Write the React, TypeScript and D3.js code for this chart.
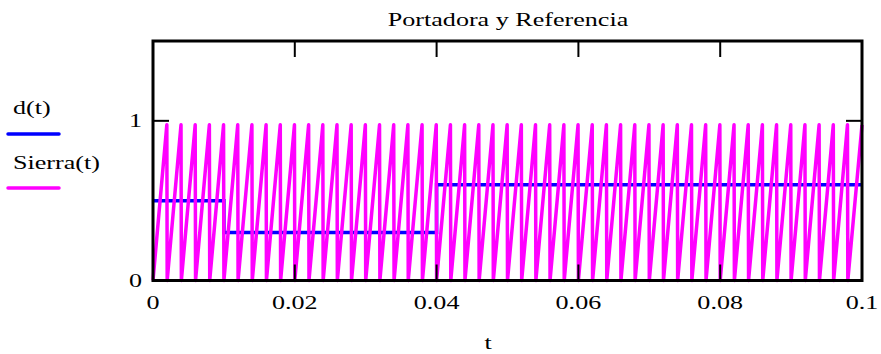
import React from "react";
import * as d3 from "d3";

// Data
const xTicks = [0, 0.02, 0.04, 0.06, 0.08, 0.1];
const xTickLabels = ["0", "0.02", "0.04", "0.06", "0.08", "0.1"];
const yTicks = [0, 1];
const yTickLabels = ["0", "1"];

// d(t): reference levels (step function)
const dStart = [0, 0.01, 0.04];
const dEnd = [0.01, 0.04, 0.1];
const dLevel = [0.5, 0.3, 0.6];

// Sierra(t): sawtooth teeth (start time of each tooth)
const toothStart = [
  0, 0.002, 0.004, 0.006, 0.008, 0.01, 0.012, 0.014, 0.016, 0.018,
  0.02, 0.022, 0.024, 0.026, 0.028, 0.03, 0.032, 0.034, 0.036, 0.038,
  0.04, 0.042, 0.044, 0.046, 0.048, 0.05, 0.052, 0.054, 0.056, 0.058,
  0.06, 0.062, 0.064, 0.066, 0.068, 0.07, 0.072, 0.074, 0.076, 0.078,
  0.08, 0.082, 0.084, 0.086, 0.088, 0.09, 0.092, 0.094, 0.096, 0.098,
];
const toothRise = 0.00195;
const toothPeak = 0.975;
const toothEnd = 0.002;

const W = 881;
const H = 354;
const left = 153;
const right = 862;
const top = 41;
const bottom = 280.5;

export default function App() {
  const x = d3.scaleLinear().domain([0, 0.1]).range([left, right]);
  const y = d3.scaleLinear().domain([0, 1.5]).range([bottom, top]);

  const dPts: [number, number][] = [];
  dLevel.forEach((v, i) => {
    dPts.push([dStart[i], v]);
    dPts.push([dEnd[i], v]);
  });
  const sPts: [number, number][] = [[0, 0]];
  toothStart.forEach((s, i) => {
    const last = i === toothStart.length - 1;
    sPts.push([last ? 0.1 : s + toothRise, toothPeak]);
    if (!last) sPts.push([s + toothEnd, 0]);
  });

  const line = d3
    .line<[number, number]>()
    .x((d) => x(d[0]))
    .y((d) => y(d[1]));

  const font = "'Liberation Serif', 'Times New Roman', serif";
  const fs = 18;
  const sx = 1.45;
  const tickLen = 16;

  const T = (props: { x: number; y: number; anchor?: string; children: React.ReactNode }) => (
    <text
      transform={`translate(${props.x},${props.y}) scale(${sx},1)`}
      fontSize={fs}
      textAnchor={props.anchor || "start"}
      style={{ fontFamily: font }}
      fill="#000"
    >
      {props.children}
    </text>
  );

  return (
    <svg width={W} height={H} style={{ position: "absolute", left: 0, top: 0 }}>
      <rect width={W} height={H} fill="#fff" />
      <T x={508} y={26} anchor="middle">Portadora y Referencia</T>
      {/* legend */}
      <T x={13} y={114}>d(t)</T>
      <line x1={8} x2={59} y1={134} y2={134} stroke="#0000ff" strokeWidth={3.5} strokeLinecap="round" />
      <T x={13} y={169}>Sierra(t)</T>
      <line x1={8} x2={59} y1={188} y2={188} stroke="#ff00ff" strokeWidth={3.5} strokeLinecap="round" />

      {/* data */}
      <path d={line(dPts) || ""} fill="none" stroke="#0000ff" strokeWidth={3.5} />
      <path d={line(sPts) || ""} fill="none" stroke="#ff00ff" strokeWidth={3.5} strokeLinejoin="round" />

      {/* frame */}
      <rect x={left} y={top} width={right - left} height={bottom - top} fill="none" stroke="#000" strokeWidth={3} />
      {xTicks.map((t, i) => (
        <g key={"xt" + i}>
          <line x1={x(t)} x2={x(t)} y1={top} y2={top + tickLen} stroke="#000" strokeWidth={2} />
          <line x1={x(t)} x2={x(t)} y1={bottom} y2={bottom - tickLen} stroke="#000" strokeWidth={2} />
          <T x={x(t)} y={309} anchor="middle">{xTickLabels[i]}</T>
        </g>
      ))}
      {yTicks.map((t, i) => (
        <g key={"yt" + i}>
          <line x1={left} x2={left + tickLen} y1={y(t)} y2={y(t)} stroke="#000" strokeWidth={2} />
          <line x1={right} x2={right - tickLen} y1={y(t)} y2={y(t)} stroke="#000" strokeWidth={2} />
          <T x={142} y={y(t) + 6} anchor="end">{yTickLabels[i]}</T>
        </g>
      ))}
      <T x={488} y={349} anchor="middle">t</T>
    </svg>
  );
}
